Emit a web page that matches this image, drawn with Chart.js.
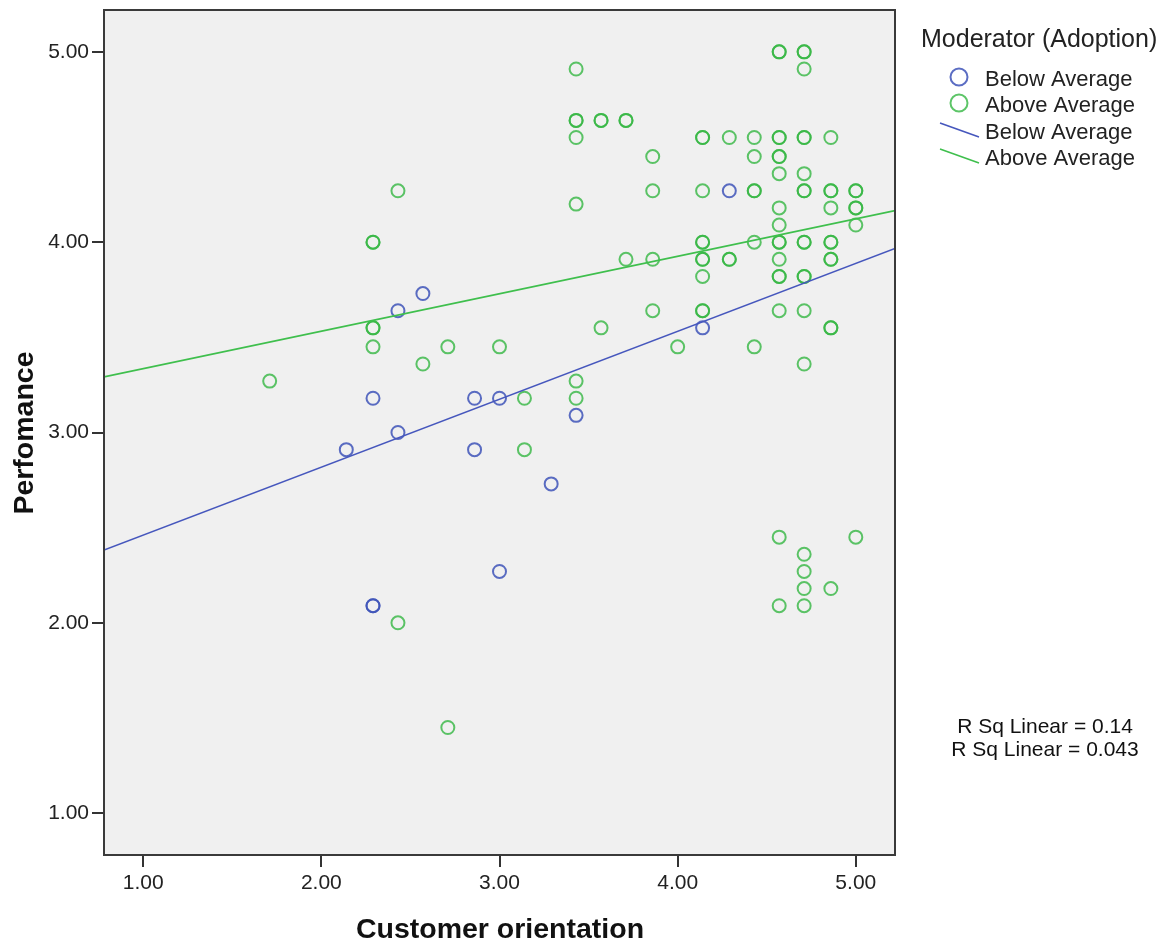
<!DOCTYPE html>
<html>
<head>
<meta charset="utf-8">
<title>Perfomance by Customer orientation</title>
<script src="https://cdn.jsdelivr.net/npm/chart.js@4.4.1/dist/chart.umd.min.js"></script>
<style>
  html, body { margin: 0; padding: 0; background: #ffffff; }
  #wrap { width: 1176px; height: 946px; }
</style>
</head>
<body>
<div id="wrap"><canvas id="chart" width="1176" height="946"></canvas></div>
<script>
// Customer orientation (x) and Perfomance (y) per respondent, split by Moderator (Adoption)
const belowX = [2.14, 2.29, 2.29, 2.29, 2.43, 2.43, 2.57, 2.86, 2.86, 3.00, 3.00, 3.29, 3.43, 4.14, 4.29];
const belowY = [2.91, 3.18, 2.09, 2.09, 3.64, 3.00, 3.73, 3.18, 2.91, 3.18, 2.27, 2.73, 3.09, 3.55, 4.27];

const aboveX = [
  1.71,
  2.29, 2.29, 2.29, 2.29, 2.29,
  2.43, 2.43,
  2.57,
  2.71, 2.71,
  3.00,
  3.14, 3.14,
  3.43, 3.43, 3.43, 3.43, 3.43, 3.43, 3.43,
  3.57, 3.57, 3.57,
  3.71, 3.71, 3.71,
  3.86, 3.86, 3.86, 3.86,
  4.00,
  4.14, 4.14, 4.14, 4.14, 4.14, 4.14, 4.14, 4.14, 4.14, 4.14,
  4.29, 4.29, 4.29,
  4.43, 4.43, 4.43, 4.43, 4.43, 4.43,
  4.57, 4.57, 4.57, 4.57, 4.57, 4.57, 4.57, 4.57, 4.57, 4.57, 4.57, 4.57, 4.57, 4.57, 4.57, 4.57, 4.57,
  4.71, 4.71, 4.71, 4.71, 4.71, 4.71, 4.71, 4.71, 4.71, 4.71, 4.71, 4.71, 4.71, 4.71, 4.71, 4.71, 4.71, 4.71,
  4.86, 4.86, 4.86, 4.86, 4.86, 4.86, 4.86, 4.86, 4.86, 4.86, 4.86,
  5.00, 5.00, 5.00, 5.00, 5.00, 5.00
];
const aboveY = [
  3.27,
  4.00, 4.00, 3.55, 3.55, 3.45,
  4.27, 2.00,
  3.36,
  3.45, 1.45,
  3.45,
  3.18, 2.91,
  4.91, 4.64, 4.64, 4.55, 4.20, 3.27, 3.18,
  4.64, 4.64, 3.55,
  4.64, 4.64, 3.91,
  4.45, 4.27, 3.91, 3.64,
  3.45,
  4.55, 4.55, 4.27, 4.00, 4.00, 3.91, 3.91, 3.82, 3.64, 3.64,
  4.55, 3.91, 3.91,
  4.55, 4.45, 4.27, 4.27, 4.00, 3.45,
  5.00, 5.00, 4.55, 4.55, 4.45, 4.45, 4.36, 4.18, 4.09, 4.00, 4.00, 3.91, 3.82, 3.82, 3.64, 2.45, 2.09,
  5.00, 5.00, 4.91, 4.55, 4.55, 4.36, 4.27, 4.27, 4.00, 4.00, 3.82, 3.82, 3.64, 3.36, 2.36, 2.27, 2.18, 2.09,
  4.55, 4.27, 4.27, 4.18, 4.00, 4.00, 3.91, 3.91, 3.55, 3.55, 2.18,
  4.27, 4.27, 4.18, 4.18, 4.09, 2.45
];

// Linear fit lines, end points at the edges of the x range
const belowFitX = [0.78, 5.22];
const belowFitY = [2.382, 3.967];
const aboveFitX = [0.78, 5.22];
const aboveFitY = [3.292, 4.166];

const axisTicks = [1, 2, 3, 4, 5];
const xTitle = 'Customer orientation';
const yTitle = 'Perfomance';
const legendTitle = 'Moderator (Adoption)';
const groupNames = ['Below Average', 'Above Average'];
const rsqLabels = ['R Sq Linear = 0.14', 'R Sq Linear = 0.043'];

const BLUE = 'rgba(62, 84, 184, 0.85)';
const GREEN = 'rgba(52, 182, 66, 0.8)';
const BLUE_LINE = '#4657bd';
const GREEN_LINE = '#3fbf4d';
const FONT = '"Liberation Sans", Arial, sans-serif';

function pts(xs, ys) {
  const n = Math.min(xs.length, ys.length);
  const out = [];
  for (let i = 0; i < n; i++) out.push({ x: xs[i], y: ys[i] });
  return out;
}

const frameAndText = {
  id: 'frameAndText',
  beforeDatasetsDraw(chart) {
    const { ctx, chartArea: a } = chart;
    ctx.save();
    ctx.fillStyle = '#f0f0f0';
    ctx.fillRect(a.left, a.top, a.right - a.left, a.bottom - a.top);
    ctx.restore();
  },
  afterDraw(chart) {
    const { ctx, chartArea: a } = chart;
    ctx.save();
    // frame
    ctx.strokeStyle = '#3a3a3a';
    ctx.lineWidth = 2;
    ctx.strokeRect(a.left, a.top, a.right - a.left, a.bottom - a.top);

    // axis titles
    ctx.fillStyle = '#111';
    ctx.font = 'bold 28.5px ' + FONT;
    ctx.textAlign = 'center';
    ctx.textBaseline = 'alphabetic';
    ctx.fillText(xTitle, 500, 938);
    ctx.save();
    ctx.translate(33, 433);
    ctx.rotate(-Math.PI / 2);
    ctx.fillText(yTitle, 0, 0);
    ctx.restore();

    // legend
    ctx.textAlign = 'left';
    ctx.fillStyle = '#222';
    ctx.font = '25px ' + FONT;
    ctx.fillText(legendTitle, 921, 47);
    ctx.font = '22px ' + FONT;
    const baselines = [86, 112, 139, 165];
    const labels = [groupNames[0], groupNames[1], groupNames[0], groupNames[1]];
    labels.forEach((t, i) => ctx.fillText(t, 985, baselines[i]));
    ctx.lineWidth = 2;
    ctx.strokeStyle = BLUE;
    ctx.beginPath(); ctx.arc(959, 77, 8.5, 0, Math.PI * 2); ctx.stroke();
    ctx.strokeStyle = GREEN;
    ctx.beginPath(); ctx.arc(959, 103, 8.5, 0, Math.PI * 2); ctx.stroke();
    ctx.lineWidth = 1.6;
    ctx.strokeStyle = BLUE_LINE;
    ctx.beginPath(); ctx.moveTo(940, 123); ctx.lineTo(979, 137); ctx.stroke();
    ctx.strokeStyle = GREEN_LINE;
    ctx.beginPath(); ctx.moveTo(940, 149); ctx.lineTo(979, 163); ctx.stroke();

    // fit statistics
    ctx.fillStyle = '#111';
    ctx.textAlign = 'center';
    ctx.font = '21px ' + FONT;
    ctx.fillText(rsqLabels[0], 1045, 733);
    ctx.fillText(rsqLabels[1], 1045, 756);
    ctx.restore();
  }
};

const fixedTicks = scale => { scale.ticks = axisTicks.map(v => ({ value: v })); };

new Chart(document.getElementById('chart'), {
  type: 'scatter',
  data: {
    datasets: [
      {
        label: groupNames[0],
        data: pts(belowX, belowY),
        showLine: false,
        pointRadius: 6.5,
        pointBorderWidth: 2,
        pointBackgroundColor: 'rgba(0,0,0,0)',
        pointBorderColor: BLUE,
        order: 3
      },
      {
        label: groupNames[1],
        data: pts(aboveX, aboveY),
        showLine: false,
        pointRadius: 6.5,
        pointBorderWidth: 2,
        pointBackgroundColor: 'rgba(0,0,0,0)',
        pointBorderColor: GREEN,
        order: 2
      },
      {
        label: groupNames[0] + ' fit',
        data: pts(belowFitX, belowFitY),
        showLine: true,
        pointRadius: 0,
        borderColor: BLUE_LINE,
        borderWidth: 1.6,
        order: 1
      },
      {
        label: groupNames[1] + ' fit',
        data: pts(aboveFitX, aboveFitY),
        showLine: true,
        pointRadius: 0,
        borderColor: GREEN_LINE,
        borderWidth: 1.6,
        order: 0
      }
    ]
  },
  options: {
    responsive: false,
    animation: false,
    devicePixelRatio: 1,
    layout: { padding: { left: 0, top: 10, right: 281, bottom: 0 } },
    plugins: {
      legend: { display: false },
      tooltip: { enabled: false }
    },
    scales: {
      x: {
        type: 'linear',
        min: 0.78,
        max: 5.22,
        afterBuildTicks: fixedTicks,
        afterFit: s => { s.height = 91; s.paddingLeft = 0; s.paddingRight = 0; },
        grid: { display: true, drawOnChartArea: false, drawTicks: true, tickLength: 12, color: '#333', lineWidth: 2 },
        border: { display: true, color: '#333', width: 2 },
        ticks: {
          color: '#222',
          font: { family: FONT, size: 21 },
          padding: 4,
          maxRotation: 0,
          callback: v => Number(v).toFixed(2)
        }
      },
      y: {
        type: 'linear',
        min: 0.78,
        max: 5.22,
        afterBuildTicks: fixedTicks,
        afterFit: s => { s.width = 104; s.paddingTop = 0; s.paddingBottom = 0; },
        grid: { display: true, drawOnChartArea: false, drawTicks: true, tickLength: 12, color: '#333', lineWidth: 2 },
        border: { display: true, color: '#333', width: 2 },
        ticks: {
          color: '#222',
          font: { family: FONT, size: 21 },
          padding: 3,
          callback: v => Number(v).toFixed(2)
        }
      }
    }
  },
  plugins: [frameAndText]
});
</script>
</body>
</html>
